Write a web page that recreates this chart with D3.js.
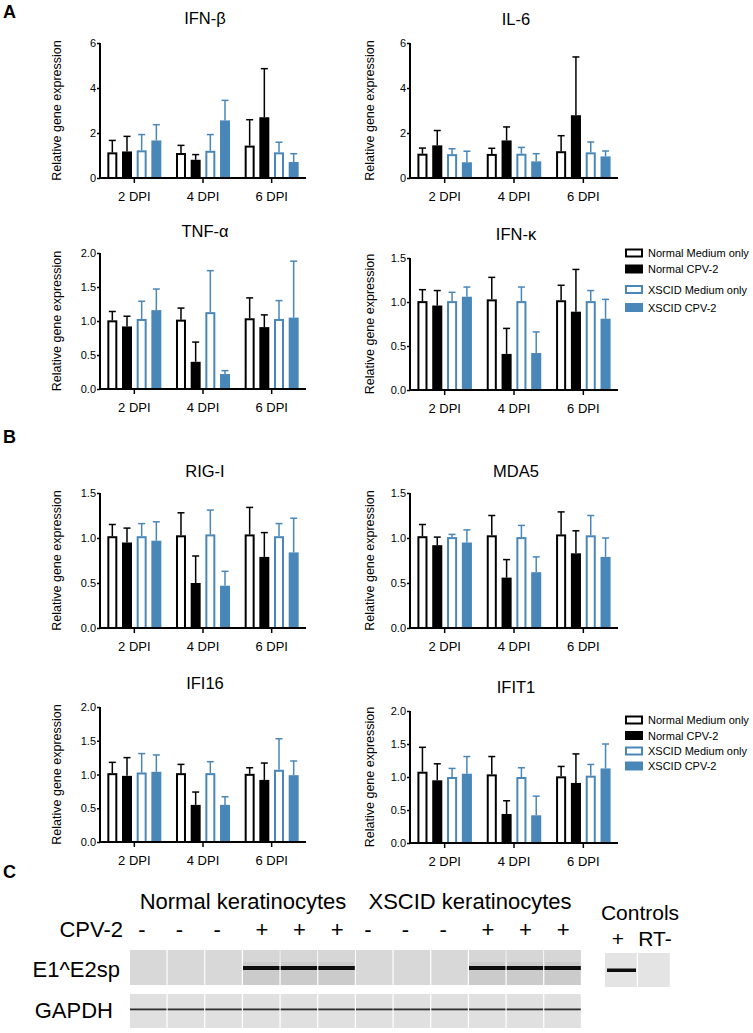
<!DOCTYPE html>
<html><head><meta charset="utf-8">
<script src="https://cdn.jsdelivr.net/npm/d3@7"></script>
<style>body{margin:0;background:#fff}svg{display:block;font-family:"Liberation Sans",Arial,Helvetica,sans-serif}</style>
</head><body><svg id="c" width="753" height="1033"></svg>
<script>
// ---------- DATA ----------
const groups = ["2 DPI", "4 DPI", "6 DPI"];
const seriesNames = ["Normal Medium only", "Normal CPV-2", "XSCID Medium only", "XSCID CPV-2"];

// mean values [group][series], upper error [group][series]
const ifnbMean = [[1.14,1.18,1.23,1.67],[1.11,0.81,1.21,2.56],[1.44,2.70,1.14,0.71]];
const ifnbErr  = [[0.53,0.67,0.70,0.70],[0.34,0.23,0.72,0.89],[1.15,2.16,0.45,0.37]];
const il6Mean  = [[1.08,1.45,1.06,0.70],[1.07,1.67,1.08,0.74],[1.19,2.79,1.14,0.96]];
const il6Err   = [[0.25,0.66,0.24,0.49],[0.25,0.60,0.28,0.34],[0.69,2.59,0.46,0.24]];
const tnfaMean = [[1.01,0.92,1.03,1.16],[1.02,0.40,1.13,0.22],[1.04,0.91,1.03,1.05]];
const tnfaErr  = [[0.13,0.15,0.26,0.31],[0.17,0.29,0.61,0.05],[0.30,0.18,0.27,0.83]];
const ifnkMean = [[1.01,0.96,1.01,1.06],[1.03,0.41,1.01,0.42],[1.02,0.89,1.01,0.81]];
const ifnkErr  = [[0.13,0.17,0.10,0.11],[0.25,0.29,0.16,0.24],[0.17,0.48,0.12,0.22]];
const rigiMean = [[1.02,0.95,1.02,0.97],[1.03,0.50,1.04,0.47],[1.04,0.79,1.02,0.84]];
const rigiErr  = [[0.13,0.16,0.14,0.21],[0.25,0.30,0.27,0.16],[0.30,0.27,0.14,0.38]];
const mda5Mean = [[1.02,0.92,1.01,0.95],[1.03,0.56,1.01,0.62],[1.04,0.83,1.03,0.79]];
const mda5Err  = [[0.13,0.09,0.03,0.14],[0.22,0.20,0.13,0.17],[0.25,0.25,0.22,0.21]];
const ifi16Mean= [[1.02,0.98,1.03,1.04],[1.02,0.55,1.02,0.55],[1.01,0.92,1.07,0.99]];
const ifi16Err = [[0.16,0.27,0.28,0.25],[0.13,0.19,0.17,0.12],[0.09,0.25,0.46,0.21]];
const ifit1Mean= [[1.08,0.95,1.00,1.05],[1.04,0.44,1.00,0.42],[1.01,0.91,1.02,1.13]];
const ifit1Err = [[0.37,0.25,0.13,0.26],[0.27,0.20,0.14,0.29],[0.15,0.44,0.17,0.37]];

const ticks6  = [0, 2, 4, 6];
const ticks15 = [0, 0.5, 1.0, 1.5];
const ticks20 = [0, 0.5, 1.0, 1.5, 2.0];

const geneTitles = ["IFN-β","IL-6","TNF-α","IFN-κ","RIG-I","MDA5","IFI16","IFIT1"];

// Gel (panel C)
const cpvSigns   = ["-","-","-","+","+","+","-","-","-","+","+","+"];
const e1e2Band   = [0,0,0,1,1,1,0,0,0,1,1,1];
const gapdhBand  = [1,1,1,1,1,1,1,1,1,1,1,1];
const controlLanes = ["+","RT-"];
const controlBand  = [1,0];
const cellGroups = ["Normal keratinocytes","XSCID keratinocytes"];

// ---------- LAYOUT ----------
const panels = [
  {mean: ifnbMean, err: ifnbErr, ticks: ticks6,  col:0, top:43,  bottom:178, titleY:24},
  {mean: il6Mean,  err: il6Err,  ticks: ticks6,  col:1, top:43,  bottom:178, titleY:25},
  {mean: tnfaMean, err: tnfaErr, ticks: ticks20, col:0, top:253, bottom:389, titleY:237},
  {mean: ifnkMean, err: ifnkErr, ticks: ticks15, col:1, top:258, bottom:390, titleY:240},
  {mean: rigiMean, err: rigiErr, ticks: ticks15, col:0, top:493, bottom:628, titleY:477},
  {mean: mda5Mean, err: mda5Err, ticks: ticks15, col:1, top:493, bottom:628, titleY:477},
  {mean: ifi16Mean,err: ifi16Err,ticks: ticks20, col:0, top:707, bottom:842, titleY:689},
  {mean: ifit1Mean,err: ifit1Err,ticks: ticks20, col:1, top:711, bottom:843, titleY:693}
];
const cols = [{x0:100, x1:306, labelX:57}, {x0:410, x1:618, labelX:370}];
const BLUE = "#4a87b9";
const seriesStyle = [
  {fill:"#fff", stroke:"#000", open:true},
  {fill:"#000", stroke:"#000", open:false},
  {fill:"#fff", stroke:BLUE, open:true},
  {fill:BLUE, stroke:BLUE, open:false}
];

const svg = d3.select("#c");

panels.forEach((p, i) => {
  const c = cols[p.col];
  const g = svg.append("g");
  const x = d3.scaleBand().domain(groups).range([c.x0, c.x1]).paddingInner(0).paddingOuter(0);
  const xs = d3.scaleBand().domain(seriesNames).range([0, x.bandwidth()]).paddingInner(0.32).paddingOuter(0.5);
  const ymax = d3.max(p.ticks);
  const y = d3.scaleLinear().domain([0, ymax]).range([p.bottom, p.top]);

  groups.forEach((grp, gi) => {
    seriesNames.forEach((s, si) => {
      const st = seriesStyle[si];
      const bx = x(grp) + xs(s), bw = xs.bandwidth();
      const m = p.mean[gi][si], e = p.err[gi][si];
      const cx = bx + bw / 2;
      g.append("line").attr("x1", cx).attr("x2", cx).attr("y1", y(m)).attr("y2", y(m + e))
        .attr("stroke", st.stroke).attr("stroke-width", 1.5);
      g.append("line").attr("x1", cx - 3.5).attr("x2", cx + 3.5).attr("y1", y(m + e)).attr("y2", y(m + e))
        .attr("stroke", st.stroke).attr("stroke-width", 1.5);
      if (st.open) {
        g.append("rect").attr("x", bx + 1).attr("y", y(m) + 1).attr("width", bw - 2)
          .attr("height", y(0) - y(m) - 1).attr("fill", "#fff").attr("stroke", st.stroke).attr("stroke-width", 2);
      } else {
        g.append("rect").attr("x", bx).attr("y", y(m)).attr("width", bw)
          .attr("height", y(0) - y(m)).attr("fill", st.fill);
      }
    });
  });

  const fmt = ymax > 2 ? d3.format("d") : d3.format(".1f");
  const ya = g.append("g").attr("transform", `translate(${c.x0},0)`)
    .call(d3.axisLeft(y).tickValues(p.ticks).tickSize(3).tickSizeOuter(0).tickPadding(1).tickFormat(fmt));
  ya.select(".domain").attr("stroke-width", 2).attr("d", `M0,${p.top}V${p.bottom + 1}`);
  ya.selectAll(".tick line").attr("stroke-width", 1.5);
  ya.selectAll("text").attr("font-size", 11).attr("font-family", null).attr("fill", "#000");

  const xa = g.append("g").attr("transform", `translate(0,${p.bottom})`)
    .call(d3.axisBottom(x).tickSize(5).tickSizeOuter(0).tickPadding(9));
  xa.select(".domain").attr("stroke-width", 2).attr("d", `M${c.x0 - 1},0H${c.x1}`);
  xa.selectAll(".tick line").attr("stroke-width", 1.5);
  xa.selectAll("text").attr("font-size", 13).attr("font-family", null).attr("fill", "#000");

  g.append("text").attr("x", (c.x0 + c.x1) / 2 + 2).attr("y", p.titleY)
    .attr("text-anchor", "middle").attr("font-size", 16.5).text(geneTitles[i]);

  g.append("text").attr("transform", `translate(${c.labelX + 4},${(p.top + p.bottom) / 2}) rotate(-90)`)
    .attr("text-anchor", "middle").attr("font-size", 12.5).text("Relative gene expression");
});

// legends
function legend(rowYs) {
  const lg = svg.append("g");
  seriesNames.forEach((s, i) => {
    const st = seriesStyle[i];
    if (st.open) {
      lg.append("rect").attr("x", 626).attr("y", rowYs[i] - 3.5).attr("width", 16).attr("height", 7)
        .attr("fill", "#fff").attr("stroke", st.stroke).attr("stroke-width", 2);
    } else {
      lg.append("rect").attr("x", 625).attr("y", rowYs[i] - 4.5).attr("width", 18).attr("height", 9)
        .attr("fill", st.fill);
    }
    lg.append("text").attr("x", 648).attr("y", rowYs[i] + 4).attr("font-size", 11).text(s);
  });
}
legend([253, 269, 289.5, 307.5]);
legend([720, 735.5, 751, 766]);

// panel letters
[["A", 18], ["B", 443], ["C", 878]].forEach(([t, yy]) => {
  svg.append("text").attr("x", 3).attr("y", yy).attr("font-size", 18).attr("font-weight", "bold").text(t);
});

// ---------- GEL ----------
const lane = d3.scaleBand().domain(d3.range(cpvSigns.length)).range([130, 582]);
const gel = svg.append("g");
const gelFont = 22;
gel.append("text").attr("x", (lane(0) + lane(5) + lane.bandwidth()) / 2).attr("y", 909)
  .attr("text-anchor", "middle").attr("font-size", gelFont).text(cellGroups[0]);
gel.append("text").attr("x", (lane(6) + lane(11) + lane.bandwidth()) / 2 + 1).attr("y", 909)
  .attr("text-anchor", "middle").attr("font-size", gelFont).text(cellGroups[1]);
gel.append("text").attr("x", 123).attr("y", 937).attr("text-anchor", "end").attr("font-size", gelFont).text("CPV-2");
gel.append("text").attr("x", 120).attr("y", 977).attr("text-anchor", "end").attr("font-size", gelFont).text("E1^E2sp");
gel.append("text").attr("x", 113).attr("y", 1018).attr("text-anchor", "end").attr("font-size", gelFont).text("GAPDH");

cpvSigns.forEach((s, i) => {
  const cx = lane(i) + lane.bandwidth() / 2 + (s === "-" ? -7 : 0);
  gel.append("text").attr("x", cx).attr("y", 937).attr("text-anchor", "middle").attr("font-size", gelFont).text(s);
  gel.append("rect").attr("x", lane(i)).attr("y", 950).attr("width", lane.bandwidth() - 1.2).attr("height", 35)
    .attr("fill", e1e2Band[i] ? "#cbcbcb" : "#d8d8d8");
  if (e1e2Band[i]) {
    gel.append("rect").attr("x", lane(i)).attr("y", 950).attr("width", lane.bandwidth() - 1.2).attr("height", 12)
      .attr("fill", "#d6d6d6");
    gel.append("rect").attr("x", lane(i)).attr("y", 966).attr("width", lane.bandwidth() - 1.2).attr("height", 4)
      .attr("fill", "#0d0d0d");
  }
  gel.append("rect").attr("x", lane(i)).attr("y", 994).attr("width", lane.bandwidth() - 1.2).attr("height", 34)
    .attr("fill", "#e0e0e0");
  if (gapdhBand[i]) {
    gel.append("rect").attr("x", lane(i)).attr("y", 1008.5).attr("width", lane.bandwidth() - 1.2).attr("height", 1.8)
      .attr("fill", "#2e2e2e");
  }
});

// controls
const cl = d3.scaleBand().domain(controlLanes).range([605, 671]);
gel.append("text").attr("x", 640).attr("y", 920).attr("text-anchor", "middle").attr("font-size", 21).text("Controls");
controlLanes.forEach((s, i) => {
  gel.append("text").attr("x", s === "+" ? cl(s) + 13 : cl(s) + 17).attr("y", 946).attr("text-anchor", "middle")
    .attr("font-size", 21).text(s);
  gel.append("rect").attr("x", cl(s)).attr("y", 953).attr("width", cl.bandwidth() - 1.2).attr("height", 34)
    .attr("fill", "#e4e4e4");
  if (controlBand[i]) {
    gel.append("rect").attr("x", cl(s) + 2).attr("y", 968.5).attr("width", cl.bandwidth() - 4).attr("height", 3.5)
      .attr("fill", "#0d0d0d");
  }
});
</script></body></html>
